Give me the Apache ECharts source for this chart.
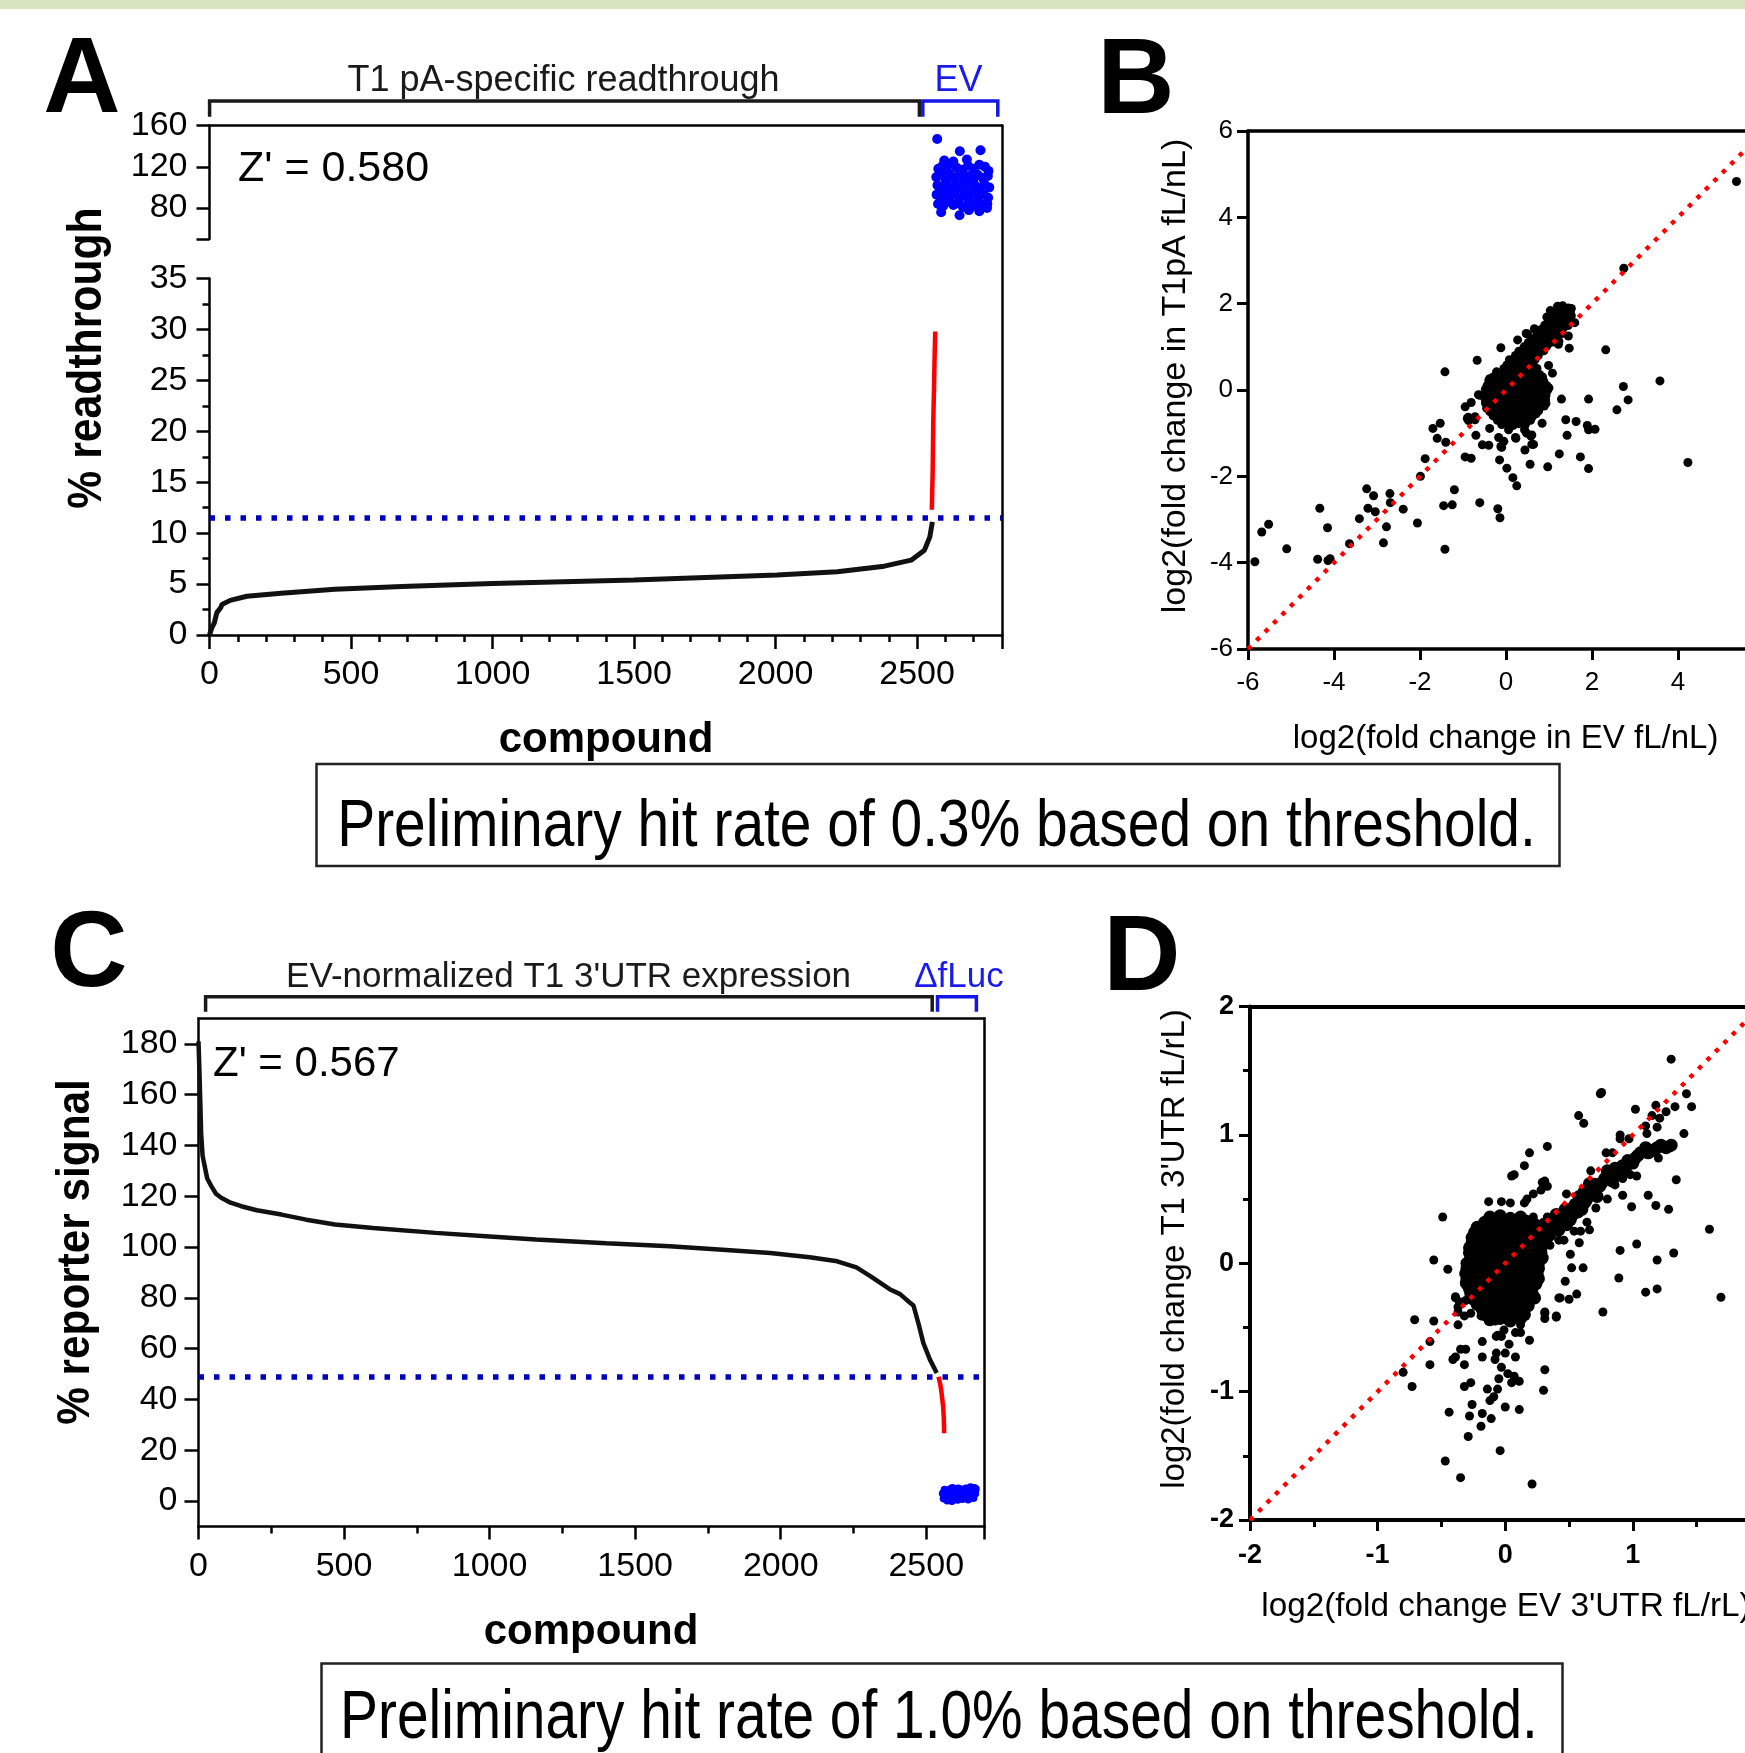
<!DOCTYPE html>
<html><head><meta charset="utf-8">
<script src="https://cdn.jsdelivr.net/npm/echarts@6/dist/echarts.min.js"></script>
<style>html,body{margin:0;padding:0;background:#fff}#c{width:1745px;height:1753px}</style>
</head><body><div id="c"></div>
<script>
// ---------------- DATA ----------------
// Panel A: ranked % readthrough (compound index, value)
const aCurve = [[0,0],[8,0.7],[17,1.2],[26,2.2],[40,2.7],[44,3.0],[73,3.4],[132,3.8],[253,4.1],[443,4.5],[680,4.75],[1000,5.05],[1500,5.4],[2005,5.88],[2218,6.2],[2384,6.76],[2479,7.35],[2526,8.33],[2545,9.64],[2554,11.1]];
const aHits = [[2552,12.3],[2555,16],[2557,20.7],[2560,24.5],[2562,27.5],[2564,29.8]];
const aEV = [[2571,147],[2651,135],[2724,136],
[2575,118],[2590,121],[2605,116],[2620,123],[2640,119],[2660,117],[2680,121],[2700,118],[2720,122],[2740,120],[2752,116],
[2568,110],[2585,112],[2600,108],[2615,113],[2632,109],[2648,112],[2665,108],[2683,111],[2698,107],[2715,112],[2733,109],[2750,111],
[2572,102],[2588,100],[2603,104],[2620,99],[2637,103],[2655,100],[2670,104],[2688,98],[2705,102],[2722,99],[2738,103],[2755,100],
[2569,93],[2584,90],[2600,94],[2617,91],[2633,95],[2650,90],[2667,93],[2683,89],[2700,94],[2717,91],[2735,93],[2751,90],
[2574,84],[2592,82],[2610,86],[2628,83],[2645,85],[2662,81],[2680,85],[2698,82],[2715,86],[2732,83],[2748,84],
[2585,76],[2650,73],[2683,78],[2720,77],[2747,80],[2628,125],[2676,127],[2596,126]];
const aThreshold = 11.5;
const aUpperTicks = [80,120,160];
const aXTicks = [0,500,1000,1500,2000,2500];

// Panel B: log2 fold change EV (x) vs T1pA (y)
const bSparse = [[5.36,4.83],[2.74,2.82],[2.32,0.93],[3.58,0.21],[2.73,0.08],[2.84,-0.23],[2.58,-0.46],[4.23,-1.68],[1.92,-0.21],[1.39,-0.69],[1.63,-0.73],[1.89,-0.82],[2.07,-0.91],[1.92,-0.92],[1.42,-1.05],[1.24,-1.48],[1.73,-1.55],[1.92,-1.82],[0.97,-1.78],[1.29,-0.21],[1.47,0.97],[1.08,0.39],[-0.67,0.69],[-1.42,0.42],[-0.12,0.98],[-0.95,-0.39],[-0.81,-0.29],[-0.64,-0.11],[-0.53,-0.13],[-0.87,-0.71],[-0.72,-0.62],[-0.70,-1.05],[-0.55,-1.27],[-0.40,-1.28],[-0.95,-1.55],[-0.81,-1.58],[-1.70,-0.89],[-1.53,-0.77],[-1.60,-1.12],[-1.40,-1.21],[-1.88,-1.59],[-1.99,-2.0],[-2.06,-3.08],[-1.20,-2.31],[-1.25,-2.66],[-1.45,-2.68],[-0.61,-2.61],[-0.19,-2.75],[-0.14,-2.96],[-1.42,-3.69],[-0.15,-1.62],[0.02,-1.81],[0.16,-2.03],[0.25,-2.22],[0.56,-1.72],[0.44,-1.39],[0.64,-1.26],[0.48,-1.0],[0.58,-1.07],[0.22,-1.1],[-0.10,-1.33],[-0.05,-1.19],[-3.24,-2.29],[-3.08,-2.45],[-2.70,-2.40],[-2.69,-2.61],[-2.39,-2.76],[-3.21,-2.74],[-3.04,-2.82],[-3.41,-2.98],[-2.78,-3.17],[-2.85,-3.54],[-3.64,-3.56],[-4.33,-2.74],[-4.15,-3.19],[-4.38,-3.92],[-4.14,-3.95],[-4.09,-3.91],[-5.10,-3.68],[-5.52,-3.11],[-5.68,-3.29],[-5.84,-3.98],
[0.27,1.16],[0.5,1.3],[1.45,1.25],[1.22,1.06],[-0.62,-0.12],[-0.88,-0.63],[-0.38,-0.89],[-0.12,-1.31],[0.23,-1.12],[0.43,-0.92],[0.6,-1.04],[0.06,-0.92],[-0.17,-1.1],[0.11,-0.79],[0.28,-0.72],[0.99,0.57],[0.93,-0.31],[-0.38,0.26],[-0.72,-0.69],[-0.9,-0.66],[1.23,1.13],[0.66,1.42],[0.47,1.31],[0.95,1.69],[1.03,1.84],[1.2,1.94],[1.52,1.89],[1.6,1.56],[1.42,1.49],[0.89,-0.37],[0.84,-0.77],[0.6,-1.26]];
const bDense = [[0.02,0.58],[0.15,0.62],[0.28,0.6],[0.4,0.64],[0.52,0.57],[0.63,0.6],[0.1,0.5],[0.35,0.52],
[-0.22,0.42],[-0.1,0.38],[0.03,0.44],[0.16,0.4],[0.29,0.37],[0.42,0.43],[0.55,0.39],[0.68,0.41],[0.78,0.36],
[-0.4,0.22],[-0.28,0.18],[-0.15,0.24],[-0.02,0.2],[0.11,0.17],[0.24,0.23],[0.37,0.19],[0.5,0.22],[0.63,0.18],[0.76,0.24],[0.88,0.2],[0.95,0.1],
[-0.48,0.02],[-0.36,-0.03],[-0.23,0.04],[-0.1,-0.02],[0.03,0.03],[0.16,-0.01],[0.29,0.04],[0.42,-0.03],[0.55,0.02],[0.68,-0.02],[0.81,0.03],[0.93,-0.04],[1.0,0.05],
[-0.5,-0.18],[-0.38,-0.22],[-0.25,-0.17],[-0.12,-0.21],[0.01,-0.18],[0.14,-0.23],[0.27,-0.18],[0.4,-0.22],[0.53,-0.17],[0.66,-0.21],[0.79,-0.18],[0.92,-0.22],
[-0.45,-0.42],[-0.32,-0.38],[-0.19,-0.43],[-0.06,-0.39],[0.07,-0.41],[0.2,-0.37],[0.33,-0.42],[0.46,-0.38],[0.59,-0.43],[0.72,-0.39],[0.84,-0.35],
[-0.3,-0.6],[-0.17,-0.64],[-0.04,-0.58],[0.09,-0.62],[0.22,-0.59],[0.35,-0.63],[0.48,-0.58],[0.61,-0.62],[0.7,-0.55],
[-0.1,-0.8],[0.04,-0.77],[0.17,-0.82],[0.3,-0.78],[0.45,-0.8],
[0.22,0.8],[0.35,0.76],[0.48,0.82],[0.6,0.78],[0.75,0.8],
[0.42,1.0],[0.55,0.96],[0.68,1.02],[0.82,0.98],[0.95,1.02],
[0.62,1.18],[0.75,1.22],[0.88,1.16],[1.0,1.22],[1.12,1.18],
[0.82,1.4],[0.95,1.36],[1.08,1.42],[1.2,1.38],[1.32,1.42],
[0.98,1.58],[1.1,1.62],[1.22,1.57],[1.35,1.6],[1.48,1.56],
[1.12,1.78],[1.25,1.82],[1.38,1.77],[1.5,1.82],
[1.2,1.92],[1.32,1.95],[1.45,1.9],
[-0.05,0.5],[0.22,0.49],[0.47,0.5],[0.6,0.48],[0.72,0.5],
[-0.3,0.3],[-0.16,0.31],[-0.04,0.29],[0.09,0.3],[0.22,0.31],[0.35,0.28],[0.48,0.3],[0.61,0.31],[0.74,0.29],[0.85,0.3],
[-0.44,0.1],[-0.31,0.11],[-0.18,0.09],[-0.05,0.1],[0.08,0.11],[0.21,0.09],[0.34,0.1],[0.47,0.11],[0.6,0.09],[0.73,0.1],[0.86,0.11],[0.97,0.0],
[-0.5,-0.1],[-0.37,-0.09],[-0.24,-0.11],[-0.11,-0.1],[0.02,-0.09],[0.15,-0.11],[0.28,-0.1],[0.41,-0.09],[0.54,-0.11],[0.67,-0.1],[0.8,-0.09],[0.93,-0.12],
[-0.48,-0.3],[-0.35,-0.29],[-0.22,-0.31],[-0.09,-0.3],[0.04,-0.29],[0.17,-0.31],[0.3,-0.3],[0.43,-0.29],[0.56,-0.31],[0.69,-0.3],[0.82,-0.29],
[-0.38,-0.5],[-0.25,-0.51],[-0.12,-0.49],[0.01,-0.5],[0.14,-0.51],[0.27,-0.49],[0.4,-0.5],[0.53,-0.51],[0.66,-0.49],[0.76,-0.48],
[-0.2,-0.7],[-0.07,-0.69],[0.06,-0.71],[0.19,-0.7],[0.32,-0.69],[0.45,-0.71],[0.57,-0.7],
[0.08,0.7],[0.2,0.69],[0.32,0.71],[0.44,0.7],[0.56,0.69],[0.68,0.71],
[0.3,0.9],[0.42,0.89],[0.54,0.91],[0.66,0.9],[0.78,0.89],[0.88,0.91],
[0.52,1.1],[0.64,1.09],[0.76,1.11],[0.88,1.1],[1.0,1.09],[1.1,1.11],
[0.72,1.3],[0.84,1.29],[0.96,1.31],[1.08,1.3],[1.2,1.29],[1.3,1.31],
[0.9,1.5],[1.02,1.49],[1.14,1.51],[1.26,1.5],[1.38,1.49],[1.45,1.5],
[1.05,1.7],[1.17,1.69],[1.29,1.71],[1.41,1.7],[1.52,1.72]];
const bIdentity = [[-6,-6],[6,6]];

// Panel C: ranked % reporter signal
const cCurve = [[0,181],[3,170],[6,158],[9,145],[14,136],[21,132],[30,127],[44,124],[60,121],[78,119.4],[110,117.5],[147,116.1],[200,114.5],[285,112.8],[370,110.8],[469,108.9],[600,107.5],[814,105.6],[1000,104.2],[1159,103],[1400,101.5],[1619,100.3],[1800,99],[1964,97.7],[2100,96],[2194,94.4],[2260,92],[2309,88.5],[2341,86],[2378,83.2],[2410,81.5],[2440,78.5],[2456,77],[2473,70],[2490,62.2],[2513,55.6],[2536,50.4]];
const cHits = [[2542,49],[2548,46],[2552,43],[2555,40],[2558,37],[2560,33],[2561,29],[2561,26.7]];
const cDfLuc = [[2557,3],[2560,1],[2563,4.5],[2568,2],[2572,0.2],[2575,3.5],[2580,1.5],[2584,4.8],[2588,0],[2592,2.8],[2596,1],[2600,4],[2604,2.2],[2608,0.5],[2612,3.6],[2616,1.8],[2620,4.6],[2624,0.8],[2628,3],[2632,1.5],[2636,5],[2640,2.5],[2644,0.6],[2648,3.8],[2652,5.5],[2655,2],[2658,4.2],[2662,1.2],[2665,5.2],[2668,3],[2670,4.8],[2610,5],[2590,5.2]];
const cThreshold = 49;
const cTicks = [0,20,40,60,80,100,120,140,160,180];

// Panel D: log2 fold change EV 3'UTR (x) vs T1 3'UTR (y)
const dSparse = [[1.30,1.59],[0.745,1.32],[0.755,1.33],[0.575,1.15],[0.615,1.09],[0.33,0.91],[0.19,0.86],[0.15,0.76],[0.07,0.69],[0.05,0.68],[-0.49,0.36],[-0.56,0.025],[-0.45,-0.047],[1.60,0.265],[1.69,-0.265],[1.46,1.22],[1.42,1.32],[1.33,1.22],[1.26,1.18],[1.18,1.23],[1.15,1.15],[1.02,1.20],[1.40,1.01],[1.34,0.65],[1.28,0.42],[1.12,0.53],[1.18,0.45],[1.03,0.15],[0.90,0.10],[0.89,-0.115],[1.19,0.025],[1.32,0.08],[1.19,-0.2],[1.10,-0.225],[0.765,-0.38],[0.99,0.44],[0.92,0.53],[0.90,0.97],[0.84,0.86],
[0.90,1.0],[0.79,0.86],[0.97,0.97],[1.11,1.01],[1.19,1.06],[1.21,1.13],[1.10,1.07],[1.2,0.82],[1.23,0.9],[1.29,0.9],[1.15,0.86],[1.03,0.68],[0.98,0.69],[0.92,0.66],[0.86,0.61],[0.77,0.63],[0.67,0.72],[0.70,0.63],[0.61,0.54],[0.64,0.47],[0.71,0.43],[0.80,0.5],
[0.48,0.54],[0.48,0.32],[0.46,0.18],[0.54,0.25],[0.59,0.25],[0.64,0.32],[0.66,0.26],[0.58,0.16],[0.51,0.07],[0.42,0.18],[0.38,0.25],[0.33,0.36],[0.30,0.32],[0.26,0.27],[0.28,0.57],[0.22,0.54],[0.17,0.5],[0.31,0.64],[0.29,0.63],[0.33,0.6],
[-0.13,0.48],[-0.03,0.48],[0.04,0.47],[0.15,0.47],[0.22,0.36],[-0.23,0.23],[-0.21,0.28],[-0.14,0.33],[-0.26,0.07],[-0.29,-0.04],[-0.32,-0.16],[-0.39,-0.27],[-0.36,-0.3],[-0.31,-0.29],[-0.37,-0.38],[-0.32,-0.41],[-0.27,-0.39],[-0.19,-0.41],[-0.13,-0.45],[-0.08,-0.45],[-0.03,-0.43],[0.02,-0.45],[0.07,-0.39],[0.13,-0.38],[0.18,-0.29],[0.19,-0.19],[0.26,-0.1],[0.25,-0.02],
[-0.07,-0.57],[-0.01,-0.52],[0.08,-0.54],[0.12,-0.48],[0.31,-0.38],[0.43,-0.27],[0.40,-0.42],[0.28,0.11],[0.35,0.14],[0.35,0.21],[0.22,0.04],
[0.61,-0.036],[0.52,-0.036],[0.47,-0.14],[0.56,-0.24],[0.50,-0.28],[0.42,-0.27],[0.40,-0.41],[0.31,-0.43],[0.31,-0.39],[0.31,-0.83],[0.30,-0.99],[0.11,-1.14],[0,-1.12],[0.21,-1.72],[-0.04,-1.46],[-0.35,-1.67],[-0.47,-1.54],[-0.29,-1.35],[-0.19,-1.27],[-0.11,-1.21],[-0.18,-1.17],[-0.28,-1.19],[-0.44,-1.16],[-0.26,-1.10],[-0.12,-1.07],[-0.09,-1.04],[-0.06,-0.98],[-0.14,-0.98],[-0.32,-0.96],[-0.27,-0.93],[-0.41,-0.75],[-0.39,-0.73],[-0.31,-0.67],[-0.35,-0.67],[-0.32,-0.79],[-0.18,-0.73],[-0.07,-0.70],[0,-0.7],[0.08,-0.73],[0.03,-0.63],[0.12,-0.54],[0.19,-0.60],[-0.03,-0.81],[0.02,-0.86],[-0.05,-0.9],[0.05,-0.93],[0.11,-0.92],[0.07,-0.88],[-0.08,-0.75],[-0.03,-0.57],
[-0.80,-0.85],[-0.73,-0.96],[-0.59,-0.79],[-0.59,-0.61],[-0.71,-0.44],[-0.56,-0.45],[-0.37,-0.48],[-0.37,-0.34],[-0.39,-0.26],[-0.32,-0.15],[-0.18,-0.61],[-0.06,-0.56]];
const dDense = [[-0.12,0.36],[-0.04,0.37],[0.04,0.35],[0.12,0.36],
[-0.22,0.28],[-0.14,0.29],[-0.06,0.27],[0.02,0.29],[0.10,0.28],[0.18,0.27],[0.26,0.29],
[-0.26,0.20],[-0.18,0.21],[-0.10,0.19],[-0.02,0.21],[0.06,0.20],[0.14,0.19],[0.22,0.21],[0.30,0.20],
[-0.28,0.12],[-0.20,0.13],[-0.12,0.11],[-0.04,0.13],[0.04,0.12],[0.12,0.11],[0.20,0.13],[0.28,0.12],
[-0.27,0.04],[-0.19,0.05],[-0.11,0.03],[-0.03,0.05],[0.05,0.04],[0.13,0.03],[0.21,0.05],[0.29,0.04],
[-0.30,-0.04],[-0.22,-0.03],[-0.14,-0.05],[-0.06,-0.03],[0.02,-0.04],[0.10,-0.05],[0.18,-0.03],[0.26,-0.04],
[-0.30,-0.12],[-0.22,-0.11],[-0.14,-0.13],[-0.06,-0.11],[0.02,-0.12],[0.10,-0.13],[0.18,-0.11],[0.26,-0.12],
[-0.28,-0.20],[-0.20,-0.19],[-0.12,-0.21],[-0.04,-0.19],[0.04,-0.20],[0.12,-0.21],[0.20,-0.19],
[-0.25,-0.28],[-0.17,-0.27],[-0.09,-0.29],[-0.01,-0.27],[0.07,-0.28],[0.15,-0.29],[0.23,-0.27],
[-0.18,-0.36],[-0.10,-0.35],[-0.02,-0.37],[0.06,-0.35],[0.14,-0.36],
[-0.12,-0.44],[-0.04,-0.43],[0.04,-0.45],[0.12,-0.43],
[0.30,0.27],[0.36,0.30],[0.42,0.33],[0.35,0.22],[0.42,0.26],[0.48,0.30],[0.40,0.38],[0.47,0.42],[0.53,0.38],[0.55,0.46],[0.60,0.42],[0.58,0.52],[0.64,0.50],[0.68,0.56],[0.72,0.52],[0.66,0.62],[0.74,0.60],[0.78,0.66],[0.84,0.64],[0.80,0.72],[0.88,0.70],[0.92,0.76],[0.96,0.80],[1.02,0.82],[1.06,0.86],[1.10,0.90],[1.16,0.88],[1.22,0.92],[1.26,0.90],[1.30,0.92],
[-0.16,0.32],[-0.08,0.33],[0,0.31],[0.08,0.32],[0.16,0.33],[0.22,0.31],
[-0.24,0.24],[-0.16,0.25],[-0.08,0.23],[0,0.25],[0.08,0.24],[0.16,0.23],[0.24,0.25],[0.3,0.24],
[-0.26,0.16],[-0.18,0.17],[-0.1,0.15],[-0.02,0.17],[0.06,0.16],[0.14,0.15],[0.22,0.17],[0.3,0.16],
[-0.28,0.08],[-0.2,0.09],[-0.12,0.07],[-0.04,0.09],[0.04,0.08],[0.12,0.07],[0.2,0.09],[0.28,0.08],
[-0.3,0.0],[-0.22,0.01],[-0.14,-0.01],[-0.06,0.01],[0.02,0.0],[0.1,-0.01],[0.18,0.01],[0.26,0.0],
[-0.31,-0.08],[-0.23,-0.07],[-0.15,-0.09],[-0.07,-0.07],[0.01,-0.08],[0.09,-0.09],[0.17,-0.07],[0.25,-0.08],
[-0.3,-0.16],[-0.22,-0.15],[-0.14,-0.17],[-0.06,-0.15],[0.02,-0.16],[0.1,-0.17],[0.18,-0.15],[0.24,-0.16],
[-0.27,-0.24],[-0.19,-0.23],[-0.11,-0.25],[-0.03,-0.23],[0.05,-0.24],[0.13,-0.25],[0.21,-0.23],
[-0.22,-0.32],[-0.14,-0.31],[-0.06,-0.33],[0.02,-0.31],[0.1,-0.32],[0.18,-0.33],
[-0.16,-0.4],[-0.08,-0.39],[0,-0.41],[0.08,-0.39],[0.15,-0.4],
[0.33,0.25],[0.39,0.28],[0.45,0.35],[0.51,0.34],[0.5,0.42],[0.57,0.4],[0.62,0.47],[0.62,0.56],[0.7,0.58],[0.76,0.63],[0.82,0.68],[0.86,0.74],[0.94,0.73],[1.0,0.78],[1.04,0.84],[1.12,0.86],[1.19,0.9]];
const dIdentity = [[-2,-2],[2,2]];

// ---------------- CHART ----------------
const FONT = "'Liberation Sans', Arial, Helvetica, sans-serif";
const K = '#000';
const BLUE = '#0000ff';
const DBLUE = '#0000c0';
const RED = '#ff0000';
const plain = v => String(v);

function axLine(w){return {show:true,onZero:false,lineStyle:{color:K,width:w}};}
function tick(len,w,extra){return Object.assign({show:true,length:len,lineStyle:{color:K,width:w}},extra||{});}
function lab(size,margin,extra){return Object.assign({show:true,fontSize:size,fontFamily:FONT,color:K,margin:margin,formatter:plain},extra||{});}
const NOSPLIT = {show:false};
function frameAxis(grid,pos){return {gridIndex:grid,type:'value',position:pos,min:0,max:1,axisLine:axLine(2.5),axisTick:{show:false},axisLabel:{show:false},splitLine:NOSPLIT};}

const xAxis = [
  {gridIndex:0,type:'value',min:0,max:2800,show:false},
  {gridIndex:1,type:'value',min:0,max:2800,interval:500,axisLine:axLine(2.5),axisTick:tick(14,2.5),
    minorTick:{show:true,splitNumber:5,length:7,lineStyle:{color:K,width:2.5}},axisLabel:lab(34,23,{customValues:aXTicks}),splitLine:NOSPLIT,minorSplitLine:NOSPLIT},
  frameAxis(2,'top'),
  {gridIndex:3,type:'value',min:-6,max:6,interval:2,axisLine:axLine(3.5),axisTick:tick(11,3),axisLabel:lab(26,21),splitLine:NOSPLIT},
  Object.assign(frameAxis(3,'top'),{axisLine:axLine(3.5)}),
  {gridIndex:4,type:'value',min:0,max:2700,interval:500,axisLine:axLine(2.5),axisTick:tick(13,2.5),
    minorTick:{show:true,splitNumber:2,length:7,lineStyle:{color:K,width:2.5}},axisLabel:lab(34,23),splitLine:NOSPLIT,minorSplitLine:NOSPLIT},
  frameAxis(4,'top'),
  {gridIndex:5,type:'value',min:-2,max:2,interval:1,axisLine:axLine(4),axisTick:tick(11,3),
    minorTick:{show:true,splitNumber:2,length:7,lineStyle:{color:K,width:3}},axisLabel:lab(27,22,{fontWeight:'bold'}),splitLine:NOSPLIT,minorSplitLine:NOSPLIT},
  Object.assign(frameAxis(5,'top'),{axisLine:axLine(4)})
];
const yAxis = [
  {gridIndex:0,type:'value',min:50,max:160,axisLine:axLine(2.5),
    axisTick:tick(13,2.5,{customValues:[50].concat(aUpperTicks)}),axisLabel:lab(34,22,{customValues:aUpperTicks}),splitLine:NOSPLIT},
  {gridIndex:0,type:'value',min:50,max:160,axisLine:{show:false},axisTick:tick(9,2.5,{inside:true,customValues:[50]}),axisLabel:{show:false},splitLine:NOSPLIT},
  {gridIndex:1,type:'value',min:0,max:35,interval:5,axisLine:axLine(2.5),axisTick:tick(13,2.5),
    minorTick:{show:true,splitNumber:2,length:7,lineStyle:{color:K,width:2.5}},axisLabel:lab(34,22),splitLine:NOSPLIT,minorSplitLine:NOSPLIT},
  {gridIndex:1,type:'value',min:0,max:35,axisLine:{show:false},axisTick:tick(10,2.5,{inside:true,customValues:[35]}),axisLabel:{show:false},splitLine:NOSPLIT},
  frameAxis(2,'right'),
  {gridIndex:3,type:'value',min:-6,max:6,interval:2,axisLine:axLine(3.5),axisTick:tick(11,3),axisLabel:lab(26,15),splitLine:NOSPLIT},
  {gridIndex:4,type:'value',min:-10,max:190,axisLine:axLine(2.5),axisTick:tick(14,2.5,{customValues:cTicks}),
    axisLabel:lab(34,21,{customValues:cTicks}),splitLine:NOSPLIT},
  frameAxis(4,'right'),
  {gridIndex:5,type:'value',min:-2,max:2,interval:1,axisLine:axLine(4),axisTick:tick(11,3),
    minorTick:{show:true,splitNumber:2,length:7,lineStyle:{color:K,width:3}},axisLabel:lab(27,16,{fontWeight:'bold'}),splitLine:NOSPLIT,minorSplitLine:NOSPLIT}
];

function G(o){return Object.assign({outerBoundsMode:'none',containLabel:false},o);}
const grid = [
  G({left:209.5,top:125.5,width:792.5,height:113.5}),
  G({left:209.5,top:278.5,width:792.5,height:356.5}),
  G({left:209.5,top:125.5,width:792.5,height:509.5}),
  G({left:1248,top:131,width:516,height:518}),
  G({left:198.5,top:1018.5,width:786,height:508}),
  G({left:1250,top:1006.5,width:510.5,height:513.5})
];

function thresholdLine(v){
  return {silent:true,symbol:['none','none'],label:{show:false},emphasis:{disabled:true},
    lineStyle:{color:DBLUE,width:5.5,type:[5.5,10],cap:'butt'},data:[{yAxis:v}]};
}
function curve(name,xi,yi,data,color,w,extra){
  return Object.assign({name:name,type:'line',xAxisIndex:xi,yAxisIndex:yi,data:data,showSymbol:false,symbol:'none',
    lineStyle:{color:color,width:w},itemStyle:{color:color},silent:true,z:3},extra||{});
}
function pts(name,xi,yi,data,color,size,z){
  return {name:name,type:'scatter',xAxisIndex:xi,yAxisIndex:yi,data:data,symbolSize:size,itemStyle:{color:color,opacity:1},silent:true,z:z||2};
}
function identity(xi,yi,data){
  return {type:'line',xAxisIndex:xi,yAxisIndex:yi,data:data,showSymbol:false,symbol:'none',silent:true,z:5,
    lineStyle:{color:RED,width:4.5,type:[4.5,7.5],cap:'butt'}};
}

const series = [
  pts('EV',0,0,aEV,BLUE,10),
  curve('T1 pA',1,2,aCurve,'#111',5,{markLine:thresholdLine(aThreshold)}),
  curve('hits A',1,2,aHits,RED,4.5),
  pts('B',3,5,bSparse.concat(bDense),'#000',9),
  identity(3,5,bIdentity),
  curve('T1 3UTR',5,6,cCurve,'#111',4.5,{markLine:thresholdLine(cThreshold)}),
  curve('hits C',5,6,cHits,RED,4.5),
  pts('dfLuc',5,6,cDfLuc,BLUE,8),
  pts('D',7,8,dSparse,'#000',9),
  pts('D core',7,8,dDense,'#000',13),
  identity(7,8,dIdentity)
];

const DY = 3;
function T(text,x,y,size,o){
  o=o||{};
  const font=(o.bold?'bold ':'')+size+"px "+FONT;
  const el={type:'text',x:x,y:y,z:10,silent:true,
    style:{text:text,font:font,fill:o.color||K,align:o.align||'center',verticalAlign:'middle',
      textAlign:o.align||'center',textVerticalAlign:'middle'}};
  if(o.rot){ el.rotation=o.rot; } else { el.y = y + DY; }
  if(o.sx) el.scaleX=o.sx;
  return el;
}
function bracket(x1,x2,y,y2,color){
  return {type:'polyline',silent:true,z:10,shape:{points:[[x1,y2],[x1,y],[x2,y],[x2,y2]]},
    style:{stroke:color,lineWidth:3.5,fill:null}};
}
const R90 = Math.PI/2;
const graphic = [
  {type:'rect',silent:true,shape:{x:0,y:0,width:1745,height:9},style:{fill:'#d8e4bf'}},
  T('A',82,79,107,{bold:true}),
  T('B',1136,80,107,{bold:true}),
  T('C',89,953,107,{bold:true}),
  T('D',1142,957,107,{bold:true}),
  T('T1 pA-specific readthrough',563.5,78,36,{color:'#1a1a1a'}),
  T('EV',958.5,78,36,{color:'#1a1aee'}),
  bracket(209.6,919.4,101,116.7,'#1a1a1a'),
  bracket(922.8,997.8,101,116.7,'#1515e8'),
  T('EV-normalized T1 3\'UTR expression',568.6,974,35,{color:'#1a1a1a'}),
  T('\u0394fLuc',959,974,35,{color:'#1a1aee'}),
  bracket(205.6,932.2,996.7,1011.7,'#1a1a1a'),
  bracket(937.5,976.4,996.7,1011.7,'#1515e8'),
  T('Z\' = 0.580',238,166,43,{align:'left'}),
  T('Z\' = 0.567',213,1061,42,{align:'left'}),
  T('% readthrough',88,358,48,{bold:true,rot:R90,sx:0.89}),
  T('compound',606,737,42,{bold:true}),
  T('% reporter signal',76,1252,47,{bold:true,rot:R90,sx:0.9}),
  T('compound',591,1629,42,{bold:true}),
  T('log2(fold change in T1pA fL/nL)',1175.5,376,34,{rot:R90}),
  T('log2(fold change in EV fL/nL)',1505.6,736,33),
  T('log2(fold change T1 3\'UTR fL/rL)',1174.5,1249,33,{rot:R90}),
  T('log2(fold change EV 3\'UTR fL/rL)',1506,1604,33.3),
  {type:'rect',silent:true,z:9,shape:{x:316.5,y:764,width:1243,height:102},style:{fill:null,stroke:'#222',lineWidth:2.5}},
  T('Preliminary hit rate of 0.3% based on threshold.',936.5,824.5,66,{sx:0.862}),
  {type:'rect',silent:true,z:9,shape:{x:321.5,y:1663.5,width:1241,height:150},style:{fill:null,stroke:'#222',lineWidth:2.5}},
  T('Preliminary hit rate of 1.0% based on threshold.',939,1715.5,69,{sx:0.824})
];

const chart = echarts.init(document.getElementById('c'),null,{renderer:'canvas'});
chart.setOption({
  backgroundColor:'#ffffff',
  animation:false,
  textStyle:{fontFamily:FONT},
  grid:grid, xAxis:xAxis, yAxis:yAxis, series:series, graphic:graphic
});
</script></body></html>
